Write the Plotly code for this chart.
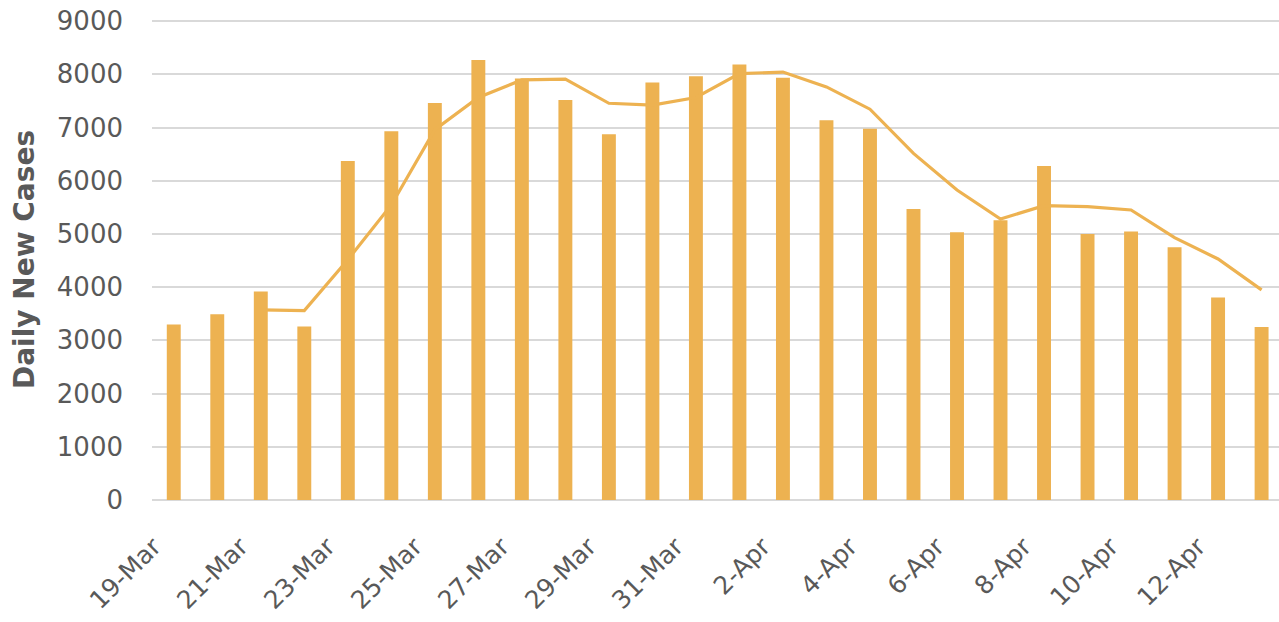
import plotly.graph_objects as go

dates = ["19-Mar", "20-Mar", "21-Mar", "22-Mar", "23-Mar", "24-Mar", "25-Mar", "26-Mar",
         "27-Mar", "28-Mar", "29-Mar", "30-Mar", "31-Mar", "1-Apr", "2-Apr", "3-Apr",
         "4-Apr", "5-Apr", "6-Apr", "7-Apr", "8-Apr", "9-Apr", "10-Apr", "11-Apr",
         "12-Apr", "13-Apr"]
daily_cases = [3300, 3490, 3920, 3260, 6370, 6930, 7460, 8270,
               7920, 7520, 6876, 7845, 7963, 8187, 7938, 7135,
               6975, 5470, 5030, 5260, 6275, 5000, 5045, 4750,
               3805, 3250]
avg_dates = dates[2:]
avg_cases = [3575, 3560, 4515, 5545, 6960, 7565, 7895, 7910, 7456, 7420, 7565, 8012,
             8043, 7763, 7345, 6514, 5825, 5281, 5531, 5512, 5450, 4930, 4530, 3950]
tick_labels = dates[::2]
y_ticks = [0, 1000, 2000, 3000, 4000, 5000, 6000, 7000, 8000, 9000]

color = "#EDB251"
grey = "#595959"
font_family = "'DejaVu Sans', 'Open Sans', sans-serif"

fig = go.Figure()
fig.add_trace(go.Bar(x=dates, y=daily_cases, marker=dict(color=color, line=dict(width=0)),
                     width=0.32, showlegend=False))
fig.add_trace(go.Scatter(x=avg_dates, y=avg_cases, mode="lines",
                         line=dict(color=color, width=3.2), showlegend=False))

fig.update_layout(
    width=1279, height=622,
    margin=dict(l=152, r=0, t=19, b=122),
    plot_bgcolor="white", paper_bgcolor="white",
    font=dict(family=font_family, color=grey),
    xaxis=dict(type="category", categoryorder="array", categoryarray=dates,
               tickmode="array", tickvals=tick_labels, ticktext=tick_labels,
               tickangle=-45, tickfont=dict(size=25, color=grey),
               showgrid=False, showline=False, ticks="", ticklen=0,
               ticklabelstandoff=26, ticklabelshift=-20,
               ticklabeloverflow="allow",
               automargin=False,
               range=[-0.5, 25.4]),
    yaxis=dict(range=[0, 9040], tickmode="array", tickvals=y_ticks,
               tickfont=dict(size=26, color=grey),
               showgrid=True, gridcolor="#D9D9D9", gridwidth=1.5,
               zeroline=True, zerolinecolor="#D9D9D9", zerolinewidth=1.5,
               ticklabelstandoff=28, ticklabeloverflow="allow", automargin=False,
               title=dict(text="<b>Daily New Cases</b>", font=dict(size=28, color=grey),
                          standoff=14)),
    bargap=0.68,
)

fig.write_html("out.html", config={"displayModeBar": False},
               post_script="document.body.style.margin='0';")
